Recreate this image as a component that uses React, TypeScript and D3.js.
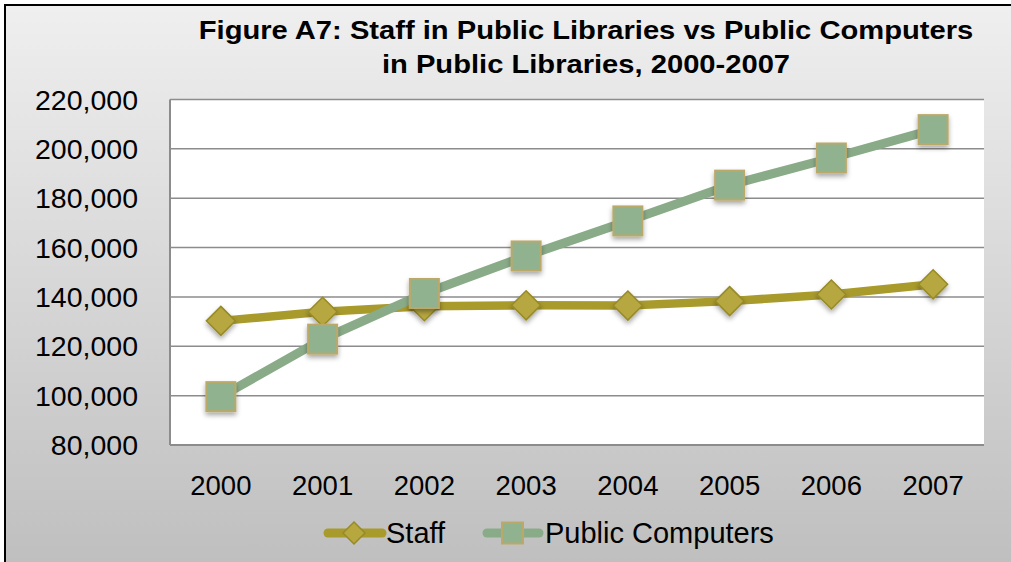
import React from 'react';
import * as d3 from 'd3';

const years = ['2000', '2001', '2002', '2003', '2004', '2005', '2006', '2007'];
const staff = [130300, 134000, 136200, 136600, 136500, 138300, 141000, 145100];
const publicComputers = [99600, 122900, 141400, 156600, 170800, 185300, 196300, 207800];
const yTicks = [80000, 100000, 120000, 140000, 160000, 180000, 200000, 220000];
const titleLines = [
  'Figure A7: Staff in Public Libraries vs Public Computers',
  'in Public Libraries, 2000-2007',
];

const W = 1011;
const H = 562;
const plot = { left: 170, right: 984, top: 99.5, bottom: 445 };

const staffLine = '#a99a2c';
const staffFill = '#b6a73f';
const staffStroke = '#978a28';
const pcLine = '#8aab88';
const pcFill = '#90b28e';
const pcStroke = '#bba96a';

const font = 'Arial, "Liberation Sans", Helvetica, sans-serif';

const App: React.FC = () => {
  const x = d3.scalePoint<string>().domain(years).range([plot.left, plot.right]).padding(0.5);
  const y = d3.scaleLinear().domain([80000, 220000]).range([plot.bottom, plot.top]);
  const fmt = d3.format(',');

  const line = d3
    .line<number>()
    .x((_, i) => x(years[i]) as number)
    .y(d => y(d));

  const diamond = (cx: number, cy: number, r: number) =>
    `M${cx},${cy - r}L${cx + r},${cy}L${cx},${cy + r}L${cx - r},${cy}Z`;

  return (
    <svg width={W} height={H} style={{ position: 'absolute', left: 0, top: 0, display: 'block' }}>
      <defs>
        <linearGradient id="bg" x1="0" y1="0" x2="0" y2="1">
          <stop offset="0" stopColor="#efefef" />
          <stop offset="1" stopColor="#bdbdbd" />
        </linearGradient>
        <filter id="shadow" x="-50%" y="-50%" width="200%" height="200%">
          <feDropShadow dx="0" dy="3" stdDeviation="2.5" floodColor="#000" floodOpacity="0.35" />
        </filter>
      </defs>

      {/* chart frame */}
      <rect x={5} y={5} width={W + 20} height={H + 20} fill="url(#bg)" stroke="#000" strokeWidth={2} />

      {/* title, slightly stretched wide like the original */}
      <g transform="translate(586,0) scale(1.1,1)">
        {titleLines.map((t, i) => (
          <text
            key={t}
            x={0}
            y={39 + i * 34}
            textAnchor="middle"
            fontFamily={font}
            fontWeight="bold"
            fontSize={26.5}
            fill="#000"
          >
            {t}
          </text>
        ))}
      </g>

      {/* plot area */}
      <rect x={plot.left} y={plot.top} width={plot.right - plot.left} height={plot.bottom - plot.top} fill="#fff" />

      {/* grid lines */}
      {yTicks.map(t => (
        <line
          key={t}
          x1={plot.left}
          x2={plot.right}
          y1={y(t)}
          y2={y(t)}
          stroke="#8c8c8c"
          strokeWidth={1.5}
        />
      ))}

      {/* axes */}
      <line x1={plot.left} x2={plot.left} y1={plot.top} y2={plot.bottom} stroke="#8c8c8c" strokeWidth={2} />
      <line x1={plot.left} x2={plot.right} y1={plot.bottom} y2={plot.bottom} stroke="#8c8c8c" strokeWidth={2} />

      {/* y tick labels */}
      {yTicks.map(t => (
        <text key={t} x={138} y={y(t) + 10} textAnchor="end" fontFamily={font} fontSize={28.5} fill="#000">
          {fmt(t)}
        </text>
      ))}

      {/* x tick labels */}
      {years.map(yr => (
        <text key={yr} x={x(yr)} y={495} textAnchor="middle" fontFamily={font} fontSize={27.5} fill="#000">
          {yr}
        </text>
      ))}

      {/* series lines */}
      <path d={line(staff) || ''} fill="none" stroke={staffLine} strokeWidth={8.5} strokeLinejoin="round" />
      <path d={line(publicComputers) || ''} fill="none" stroke={pcLine} strokeWidth={9} strokeLinejoin="round" />

      {/* staff markers */}
      {staff.map((v, i) => (
        <path
          key={'s' + i}
          d={diamond(x(years[i]) as number, y(v), 14.5)}
          fill={staffFill}
          stroke={staffStroke}
          strokeWidth={1.5}
          filter="url(#shadow)"
        />
      ))}

      {/* public computers markers */}
      {publicComputers.map((v, i) => (
        <rect
          key={'p' + i}
          x={(x(years[i]) as number) - 14.5}
          y={y(v) - 14.5}
          width={29}
          height={29}
          fill={pcFill}
          stroke={pcStroke}
          strokeWidth={2}
          filter="url(#shadow)"
        />
      ))}

      {/* legend */}
      <g>
        <line x1={328} x2={382} y1={533} y2={533} stroke={staffLine} strokeWidth={9} strokeLinecap="round" />
        <path d={diamond(354, 533, 11)} fill={staffFill} stroke={staffStroke} strokeWidth={1.5} />
        <text x={386} y={543} fontFamily={font} fontSize={29} fill="#000">
          Staff
        </text>
        <line x1={487} x2={539} y1={533} y2={533} stroke={pcLine} strokeWidth={9} strokeLinecap="round" />
        <rect x={502} y={522.5} width={21} height={21} fill={pcFill} stroke={pcStroke} strokeWidth={2} />
        <text x={545} y={543} fontFamily={font} fontSize={29} fill="#000">
          Public Computers
        </text>
      </g>
    </svg>
  );
};

export default App;
